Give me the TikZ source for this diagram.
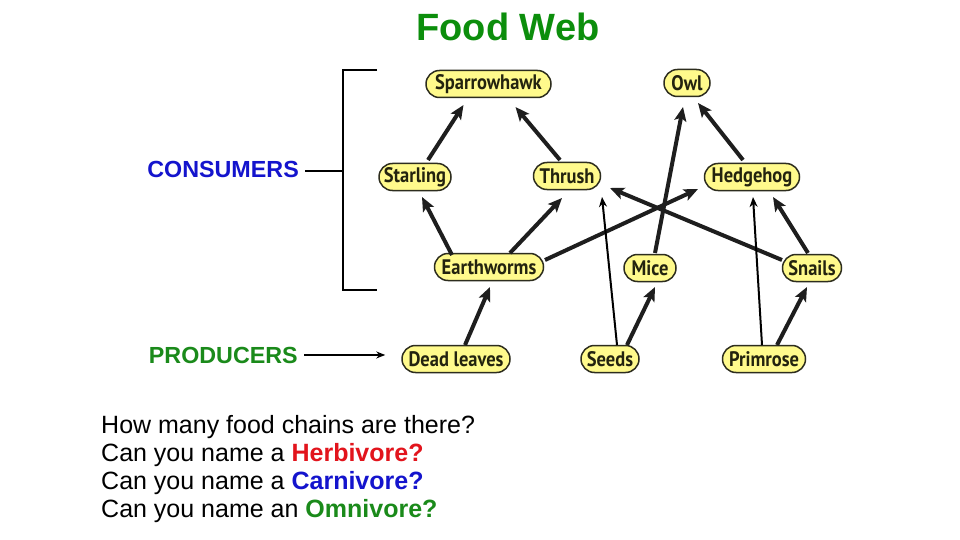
\documentclass[tikz,border=0pt]{standalone}
\usepackage{fontspec}
\setmainfont{Liberation Sans}
\newfontfamily\nodefont[FakeStretch=0.88]{PT Sans Bold}
\usetikzlibrary{arrows.meta,calc,shapes.misc}
\definecolor{titlegreen}{RGB}{12,142,12}
\definecolor{conblue}{RGB}{20,20,205}
\definecolor{progreen}{RGB}{26,138,26}
\definecolor{herbred}{RGB}{226,20,28}
\definecolor{nodefill}{RGB}{255,250,140}
\definecolor{nodeedge}{RGB}{45,45,30}
\definecolor{nodetext}{RGB}{35,35,15}
\definecolor{arrowdark}{RGB}{30,30,30}
\tikzset{
  food/.style={rounded rectangle, draw=nodeedge, line width=1.5pt, fill=nodefill,
    text=nodetext, font=\nodefont\fontsize{21}{23}\selectfont,
    minimum height=27pt, inner xsep=2pt, inner ysep=0pt},
  fat/.style={draw=arrowdark, line width=4pt, -{Stealth[length=14pt,width=12pt,inset=3pt]}},
  thin/.style={draw=black, line width=2pt, -{Stealth[length=10pt,width=8pt]}},
  label/.style={font=\bfseries\fontsize{23.3}{26}\selectfont, inner sep=0pt},
  question/.style={font=\fontsize{25}{28}\selectfont, inner sep=0pt, anchor=base west},
  bracket/.style={draw=black, line width=2.4pt}
}
\begin{document}
\begin{tikzpicture}[x=1pt,y=-1pt]
\useasboundingbox (0,0) rectangle (960,540);
\fill[white] (0,0) rectangle (960,540);

% title
\node[font=\bfseries\fontsize{38}{40}\selectfont, text=titlegreen, inner sep=0pt, anchor=base] (title) at (508,41) {Food Web};

% organisms
\node[food, minimum width=129pt] (SH) at (488.5,84) {Sparrowhawk};
\node[food, minimum width=50pt] (Owl) at (687,83) {Owl};
\node[food, minimum width=76pt] (St) at (415,177) {Starling};
\node[food, minimum width=71pt] (Th) at (567,176) {Thrush};
\node[food, minimum width=99pt] (He) at (752,177) {Hedgehog};
\node[food, minimum width=113pt] (Ew) at (489,267) {Earthworms};
\node[food, minimum width=56pt] (Mi) at (650,268) {Mice};
\node[food, minimum width=63pt] (Sn) at (812,268) {Snails};
\node[food, minimum width=112pt] (DL) at (456,359) {Dead leaves};
\node[food, minimum width=62pt] (Se) at (610,359) {Seeds};
\node[food, minimum width=87pt] (Pr) at (764,359) {Primrose};

% thick arrows
\draw[fat] ($(St)+(13,-17)$) -- ($(SH)+(-25,21)$);
\draw[fat] ($(Th)+(-7,-16)$) -- ($(SH)+(27,23)$);
\draw[fat] ($(Mi)+(5,-15)$) -- ($(Owl)+(-4,24)$);
\draw[fat] ($(He)+(-9,-17)$) -- ($(Owl)+(11,20)$);
\draw[fat] ($(Ew)+(-37,-12)$) -- ($(St)+(7,20)$);
\draw[fat] ($(Ew)+(21,-14)$) -- ($(Th)+(-5,22)$);
\draw[fat] ($(Ew)+(56,-7)$) -- ($(He)+(-54,12)$);
\draw[fat] ($(Sn)+(-30,-8)$) -- ($(Th)+(43,12)$);
\draw[fat] ($(Sn)+(-4,-15)$) -- ($(He)+(21,20)$);
\draw[fat] ($(DL)+(9,-14)$) -- ($(Ew)+(1,20)$);
\draw[fat] ($(Se)+(17,-14)$) -- ($(Mi)+(5,19)$);
\draw[fat] ($(Pr)+(13,-14)$) -- ($(Sn)+(-5,19)$);

% thin arrows
\draw[thin] ($(Se)+(7,-14)$) -- ($(Th)+(35,21)$);
\draw[thin] ($(Pr)+(-2,-14)$) -- ($(He)+(1,20)$);

% labels
\node[label, text=conblue, anchor=base east] (CON) at (299,178) {CONSUMERS};
\node[label, text=progreen, anchor=base east] (PRO) at (298,363) {PRODUCERS};

% bracket
\coordinate (btr) at (377,70);
\coordinate (bt) at (343,70);
\coordinate (bb) at (343,290);
\coordinate (bbr) at (377,290);
\coordinate (bm) at (343,171);
\draw[bracket] (btr) -- (bt) -- (bb) -- (bbr);
\draw[bracket] ([xshift=6pt]CON.east |- bm) -- (bm);
\draw[line width=1.8pt, -{Stealth[length=9pt,width=7pt]}] ([xshift=6pt]PRO.east) -- ([xshift=-16pt]DL.west |- PRO.east);

% questions
\node[question] (q1) at (101,433) {How many food chains are there?};
\node[question] (q2) at (101,461) {Can you name a \textbf{\color{herbred}Herbivore?}};
\node[question] (q3) at (101,489) {Can you name a \textbf{\color{conblue}Carnivore?}};
\node[question] (q4) at (101,517) {Can you name an \textbf{\color{progreen}Omnivore?}};
\end{tikzpicture}
\end{document}
